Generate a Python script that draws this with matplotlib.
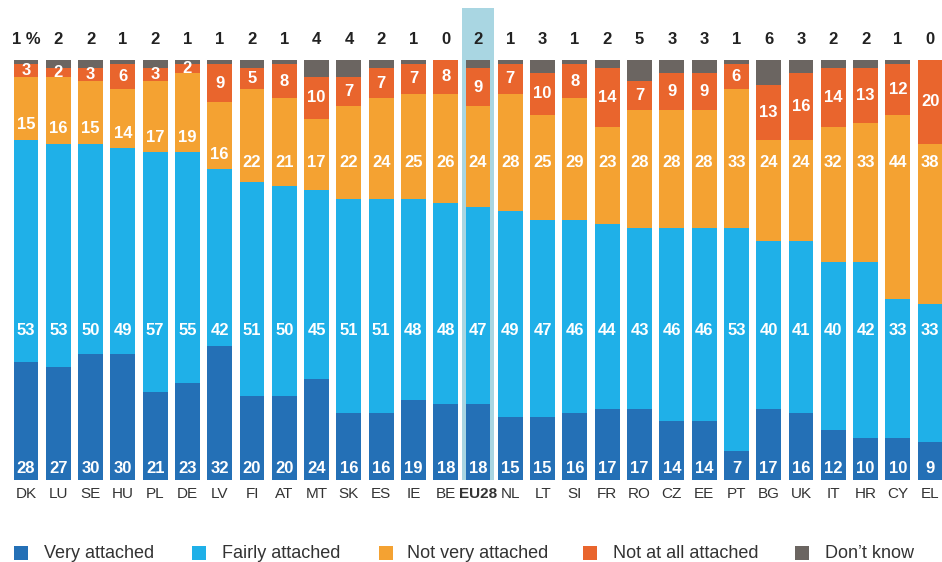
import matplotlib
matplotlib.use("Agg")
import matplotlib.pyplot as plt
from matplotlib.patches import Rectangle

countries = ["DK","LU","SE","HU","PL","DE","LV","FI","AT","MT","SK","ES","IE","BE","EU28",
             "NL","LT","SI","FR","RO","CZ","EE","PT","BG","UK","IT","HR","CY","EL"]
very_attached   = [28,27,30,30,21,23,32,20,20,24,16,16,19,18,18,15,15,16,17,17,14,14,7,17,16,12,10,10,9]
fairly_attached = [53,53,50,49,57,55,42,51,50,45,51,51,48,48,47,49,47,46,44,43,46,46,53,40,41,40,42,33,33]
not_very        = [15,16,15,14,17,19,16,22,21,17,22,24,25,26,24,28,25,29,23,28,28,28,33,24,24,32,33,44,38]
not_at_all      = [3,2,3,6,3,2,9,5,8,10,7,7,7,8,9,7,10,8,14,7,9,9,6,13,16,14,13,12,20]
dont_know       = [1,2,2,1,2,1,1,2,1,4,4,2,1,0,2,1,3,1,2,5,3,3,1,6,3,2,2,1,0]
series_names = ["Very attached","Fairly attached","Not very attached","Not at all attached","Don\u2019t know"]
highlight = "EU28"

colors = ["#2470b6", "#1fb0e8", "#f4a232", "#e9652d", "#6b6561"]

plt.rcParams['font.family'] = ['Liberation Sans', 'DejaVu Sans']

W, H = 942, 562
fig = plt.figure(figsize=(W/100, H/100), dpi=100)
ax = fig.add_axes([0, 0, 1, 1])
pitch = 32.29
ppu = 4.2
x0px, y0px = 26, 480
ax.set_xlim(-x0px/pitch, (W-x0px)/pitch)
ax.set_ylim(-(H-y0px)/ppu, y0px/ppu)
ax.axis('off')

n = len(countries)
xs = list(range(n))
bw = 0.77

# highlight band
hi = countries.index(highlight)
ax.add_patch(Rectangle((hi-0.5, 0), 1.0, (y0px-8)/ppu, color="#a9d6e2", zorder=0, lw=0))

series = [very_attached, fairly_attached, not_very, not_at_all, dont_know]
bottoms = [0]*n
for s, c in zip(series, colors):
    ax.bar(xs, s, bottom=bottoms, width=bw, color=c, zorder=2, linewidth=0)
    bottoms = [b+v for b, v in zip(bottoms, s)]

lab_kw = dict(color="white", fontsize=12, fontweight="bold", ha="center", va="center", zorder=3)
for i in xs:
    v, f, nv, na, dk = very_attached[i], fairly_attached[i], not_very[i], not_at_all[i], dont_know[i]
    ax.text(i, 2.7, str(v), **lab_kw)
    ax.text(i, 35.7, str(f), **lab_kw)
    nb = v + f
    ax.text(i, max(75.5, nb + 3.6), str(nv), **lab_kw)
    ab = nb + nv
    ax.text(i, ab + na/2, str(na), **lab_kw)
    top_lab = f"{dk} %" if i == 0 else str(dk)
    ax.text(i, (y0px-40)/ppu, top_lab, color="#222222", fontsize=12, fontweight="bold",
            ha="center", va="center", zorder=3)
    ax.text(i, -(494-y0px)/ppu, countries[i], color="#333333", fontsize=11,
            fontweight="bold" if i == hi else "normal", ha="center", va="center", zorder=3)

# legend
leg_sq = [14, 192, 379, 583, 795]
leg_tx = [44, 222, 407, 613, 825]
ly = 553
for sq, tx, name, c in zip(leg_sq, leg_tx, series_names, colors):
    fig.patches.append(Rectangle((sq/W, (H-ly-7)/H), 14/W, 14/H, transform=fig.transFigure,
                                 color=c, lw=0))
    fig.text(tx/W, (H-ly)/H, name, fontsize=13, color="#333333", va="center", ha="left")

fig.savefig("out.png", dpi=100)
